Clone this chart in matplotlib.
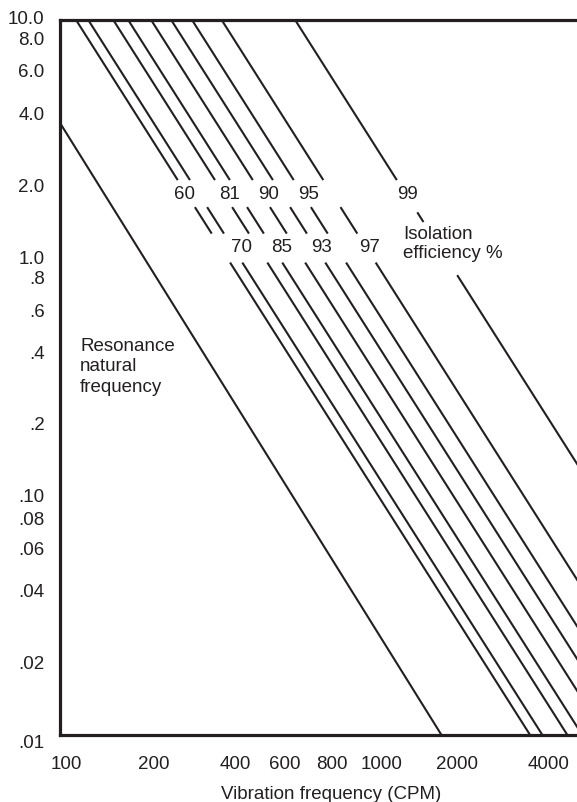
import matplotlib
matplotlib.use("Agg")
import matplotlib.pyplot as plt
from matplotlib.transforms import ScaledTranslation
import numpy as np

plt.rcParams['font.family'] = ['Liberation Sans', 'DejaVu Sans']

# isolation efficiency lines: frequency (CPM) where each crosses 10.0 and .01
iso_labels = ['60', '70', '81', '85', '90', '93', '95', '97', '99']
iso_f_top = [113, 124, 150, 168, 200, 233, 273, 342, 598]
iso_f_bottom = [3570, 3920, 4740, 5310, 6320, 7370, 8630, 10800, 18900]
upper_row = ['60', '81', '90', '95', '99']

# resonance (natural frequency) line
res_f = [100, 1820]
res_d = [3.7, 0.01]

xticks = [100, 200, 400, 600, 800, 1000, 2000, 4000]
xtick_labels = ['100', '200', '400', '600', '800', '1000', '2000', '4000']
yticks = [10, 8, 6, 4, 2, 1, .8, .6, .4, .2, .1, .08, .06, .04, .02, .01]
ytick_labels = ['10.0', '8.0', '6.0', '4.0', '2.0', '1.0', '.8', '.6', '.4',
                '.2', '.10', '.08', '.06', '.04', '.02', '.01']

ink = '#231f20'
fs = 13.5

fig = plt.figure(figsize=(5.77, 8.02), dpi=100)
ax = fig.add_axes([60/577, 67/802, 517/577, 715/802])
ax.set_xscale('log')
ax.set_yscale('log')
ax.set_xlim(100, 5100)
ax.set_ylim(0.01, 10)


def f_at(ft, fb, d):
    # position along a straight log-log line between its two read end points
    t = (np.log10(d) - 1.0) / (-3.0)
    return 10 ** (np.log10(ft) + t * (np.log10(fb) - np.log10(ft)))


# labels sit a little right of their line in the print (pixels)
label_dx = {'60': -2, '70': 9, '81': 6, '85': 9, '90': 7,
            '93': 6, '95': 6, '97': 3, '99': 2}

# line pieces between the label gaps
for lab, ft, fb in zip(iso_labels, iso_f_top, iso_f_bottom):
    if lab == '99':
        pieces = [(10, 2.13), (1.56, 1.42), (0.85, 0.01)]
    else:
        pieces = [(10, 2.13), (1.64, 1.27), (0.96, 0.01)]
    for d0, d1 in pieces:
        ax.plot([f_at(ft, fb, d0), f_at(ft, fb, d1)], [d0, d1],
                color=ink, lw=1.5, solid_capstyle='butt')
    dl = 1.86 if lab in upper_row else 1.11
    off = ScaledTranslation(label_dx[lab]/100, 0, fig.dpi_scale_trans)
    ax.text(f_at(ft, fb, dl), dl, lab, ha='center', va='center',
            fontsize=fs, color=ink, transform=ax.transData + off)

ax.plot(res_f, res_d, color=ink, lw=1.5)

ax.text(0.039, 0.515, 'Resonance\nnatural\nfrequency', transform=ax.transAxes,
        ha='left', va='center', fontsize=fs, color=ink, linespacing=1.25)
ax.text(0.663, 0.687, 'Isolation\nefficiency %', transform=ax.transAxes,
        ha='left', va='center', fontsize=fs, color=ink, linespacing=1.15)

ax.set_xticks(xticks)
ax.set_xticklabels(xtick_labels)
ax.set_yticks(yticks)
ax.set_yticklabels(ytick_labels)
ax.minorticks_off()
ax.tick_params(axis='x', length=0, pad=15, labelsize=fs, colors=ink)
ax.tick_params(axis='y', length=0, pad=11, labelsize=fs, colors=ink)

# nudge crowded labels like the printed chart
xshift = [6, 3, -7, -11, -2, 19, 3, 4]
for lbl, dx in zip(ax.get_xticklabels(), xshift):
    lbl.set_transform(lbl.get_transform() + ScaledTranslation(dx/100, 0, fig.dpi_scale_trans))
yshift = {'10.0': 3, '8.0': 5, '6.0': 2, '.8': 4, '.01': -7}
for lbl in ax.get_yticklabels():
    dy = yshift.get(lbl.get_text(), 1)
    lbl.set_transform(lbl.get_transform() + ScaledTranslation(0, dy/100, fig.dpi_scale_trans))

ax.set_xlabel('Vibration frequency (CPM)', fontsize=fs, color=ink)
ax.xaxis.set_label_coords(0.524, -0.071)
ax.xaxis.label.set_va('top')

for s in ['top', 'left', 'bottom']:
    ax.spines[s].set_linewidth(2.3)
    ax.spines[s].set_color(ink)
ax.spines['right'].set_visible(False)

fig.savefig('out.png', dpi=100)
